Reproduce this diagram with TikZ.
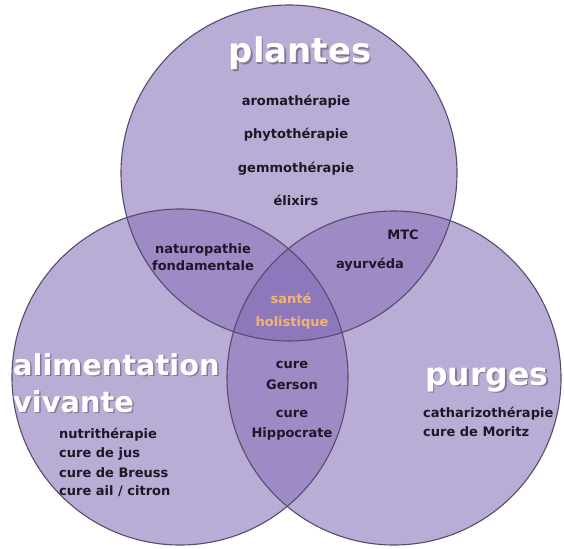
\documentclass[tikz,border=0pt]{standalone}
\usepackage{fontspec}
\setmainfont{DejaVu Sans}
\usetikzlibrary{calc}
\definecolor{circbase}{HTML}{BAADD5}
\definecolor{circpair}{HTML}{9E8BC6}
\definecolor{circcore}{HTML}{8E78BC}
\definecolor{circedge}{HTML}{574B6E}
\definecolor{itemtext}{HTML}{1C1828}
\definecolor{coretext}{HTML}{F4B46C}
\begin{document}
\begin{tikzpicture}[x=1pt,y=-1pt,
  ring/.style={draw=circedge,line width=1.1pt},
  item/.style={inner sep=0pt,anchor=base,text=itemtext,font=\fontsize{13}{13}\selectfont\bfseries},
  itemleft/.style={item,anchor=base west},
  core/.style={item,text=coretext},
  heading/.style={inner sep=0pt,text=white},
  headshadow/.style={inner sep=0pt,text=black,opacity=0.3}]
\useasboundingbox (0,0) rectangle (564,548);

% circle centres
\coordinate (T) at (289,173);
\coordinate (L) at (180,377);
\coordinate (R) at (394,378);

% base discs
\fill[circbase] (T) circle[radius=168pt];
\fill[circbase] (L) circle[radius=168pt];
\fill[circbase] (R) circle[radius=167pt];

% pairwise overlaps
\begin{scope}
  \clip (T) circle[radius=168pt];
  \fill[circpair] (L) circle[radius=168pt];
  \fill[circpair] (R) circle[radius=167pt];
\end{scope}
\begin{scope}
  \clip (L) circle[radius=168pt];
  \fill[circpair] (R) circle[radius=167pt];
\end{scope}

% triple overlap
\begin{scope}
  \clip (T) circle[radius=168pt];
  \clip (L) circle[radius=168pt];
  \fill[circcore] (R) circle[radius=167pt];
\end{scope}

% outlines
\draw[ring] (T) circle[radius=168pt];
\draw[ring] (L) circle[radius=168pt];
\draw[ring] (R) circle[radius=167pt];

% headings with a soft drop shadow
\newcommand\headline[5]{%
  \node[headshadow,anchor=#2,font=\fontsize{#3}{#3}\selectfont\bfseries] (#1s) at ($(#4)+(1.5,1.5)$) {#5};
  \node[heading,anchor=#2,font=\fontsize{#3}{#3}\selectfont\bfseries] (#1) at (#4) {#5};}
\headline{hPlantes}{base}{34}{300,63}{plantes}
\headline{hAlim}{base west}{28.8}{13,375}{alimentation}
\headline{hViv}{base west}{28.8}{13,412}{vivante}
\headline{hPurges}{base west}{31.5}{425,385}{purges}

% top circle
\node[item] (aroma) at (296,106) {aromathérapie};
\node[item] (phyto) at (296,139) {phytothérapie};
\node[item] (gemmo) at (296,172) {gemmothérapie};
\node[item] (elix)  at (296,205) {élixirs};

% top / left overlap
\node[item] (natu)  at (203,253) {naturopathie};
\node[item] (fonda) at (203,270) {fondamentale};

% top / right overlap
\node[item] (mtc)   at (403,239) {MTC};
\node[item] (ayur)  at (370,268) {ayurvéda};

% centre
\node[core] (sante) at (291,303) {santé};
\node[core] (holi)  at (292,326) {holistique};

% left / right overlap
\node[item] (cure1)  at (292,368) {cure};
\node[item] (gerson) at (292,389) {Gerson};
\node[item] (cure2)  at (292,417) {cure};
\node[item] (hippo)  at (292,437) {Hippocrate};

% left circle list
\node[itemleft] (nutri)   at (59,438) {nutrithérapie};
\node[itemleft] (jus)     at (59,457) {cure de jus};
\node[itemleft] (breuss)  at (59,477) {cure de Breuss};
\node[itemleft] (ail)     at (59,495) {cure ail / citron};

% right circle list
\node[itemleft] (cathar)  at (423,417) {catharizothérapie};
\node[itemleft] (moritz)  at (423,436) {cure de Moritz};
\end{tikzpicture}
\end{document}
